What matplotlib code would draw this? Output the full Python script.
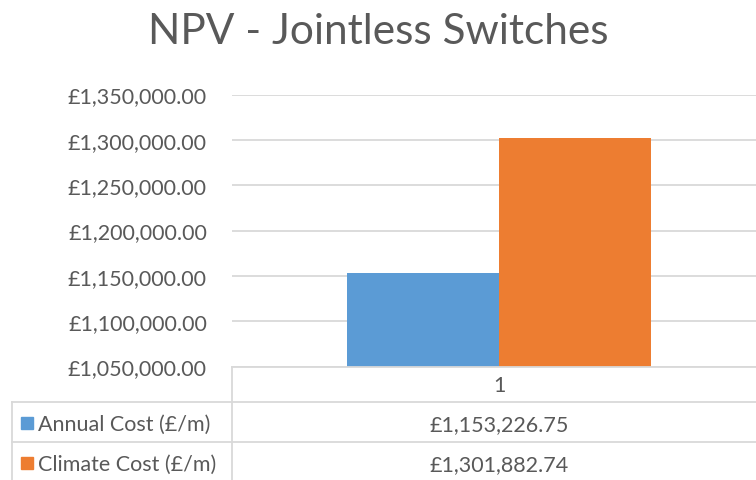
import matplotlib
matplotlib.use("Agg")
import matplotlib.pyplot as plt
from matplotlib.lines import Line2D
from matplotlib.patches import Rectangle

plt.rcParams['font.family'] = ['Lato', 'DejaVu Sans']

# data
title = "NPV - Jointless Switches"
category = ["1"]
series_names = ["Annual Cost (£/m)", "Climate Cost (£/m)"]
series_values = [1153226.75, 1301882.74]
series_colors = ["#5b9bd5", "#ed7d31"]
y_ticks = [1050000, 1100000, 1150000, 1200000, 1250000, 1300000, 1350000]

W, H = 756, 481
txt = "#595959"
grid = "#d9d9d9"
fs = 15.5

fig = plt.figure(figsize=(W / 100, H / 100), dpi=100)

# plot area in pixels (extends a bit past right edge like the screenshot)
left, right, top, bottom = 232, 766, 95.5, 367.5
ax = fig.add_axes([left / W, 1 - bottom / H, (right - left) / W, (bottom - top) / H])

bw = 0.285
for i, (name, val, col) in enumerate(zip(series_names, series_values, series_colors)):
    ax.bar((i - 0.5) * bw, val - y_ticks[0], bottom=y_ticks[0], width=bw,
           color=col, zorder=3)

ax.set_xlim(-0.5, 0.5)
ax.set_ylim(y_ticks[0], y_ticks[-1])
ax.set_yticks(y_ticks)
ax.set_yticklabels(["£{:,.2f}".format(v) for v in y_ticks])
ax.yaxis.grid(True, color=grid, linewidth=1.3, zorder=0)
ax.tick_params(axis='y', length=0, pad=18, labelsize=fs, labelcolor=txt)
ax.set_xticks([])
for s in ax.spines.values():
    s.set_visible(False)

fig.text(378 / W, 1 - 32 / H, title, ha='center', va='center', fontsize=30.5, color=txt)

# data table
def px(x, y):
    return x / W, 1 - y / H

def hline(y, x0, x1):
    fig.add_artist(Line2D([x0 / W, x1 / W], [1 - y / H, 1 - y / H],
                          color=grid, linewidth=1.3, transform=fig.transFigure))

def vline(x, y0, y1):
    fig.add_artist(Line2D([x / W, x / W], [1 - y0 / H, 1 - y1 / H],
                          color=grid, linewidth=1.3, transform=fig.transFigure))

row_y = [402.5, 443]
hline(bottom, left, right)
for y in row_y:
    hline(y, 12, right)
vline(left, bottom, H + 2)
vline(12, row_y[0], H + 2)

cx = (left + right) / 2
fig.text(*px(cx, 386), category[0], ha='center', va='center', fontsize=fs, color=txt)
row_centers = [425, 465]
for name, val, col, yc in zip(series_names, series_values, series_colors, row_centers):
    fig.add_artist(Rectangle(px(21, yc + 5), 12 / W, 12 / H, color=col,
                             transform=fig.transFigure))
    fig.text(*px(38, yc), name, ha='left', va='center', fontsize=fs, color=txt)
    fig.text(*px(cx, yc), "£{:,.2f}".format(val), ha='center', va='center',
             fontsize=fs, color=txt)

fig.savefig("out.png", dpi=100, facecolor="white")
